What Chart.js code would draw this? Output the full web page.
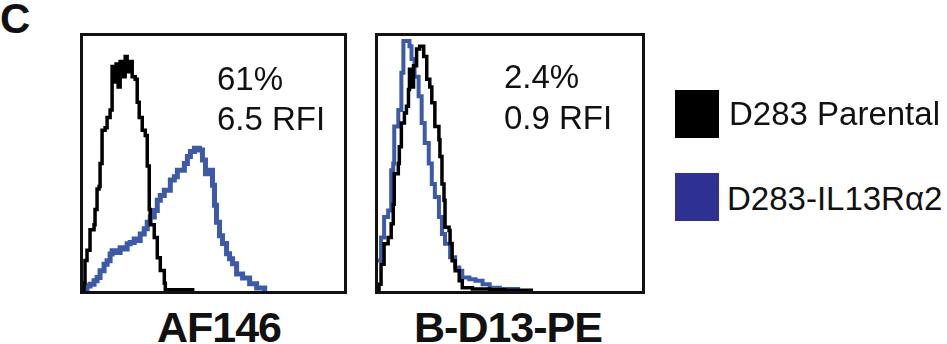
<!DOCTYPE html>
<html>
<head>
<meta charset="utf-8">
<script src="https://cdn.jsdelivr.net/npm/chart.js@4.4.0/dist/chart.umd.min.js"></script>
<style>
  body { margin: 0; width: 947px; height: 344px; background: #fff; position: relative; overflow: hidden;
         font-family: "Liberation Sans", Arial, Helvetica, sans-serif; color: #111; }
  .txt { position: absolute; line-height: 1; white-space: nowrap; }
  .panel { position: absolute; border: 3px solid #111; background: #fff; }
  .panel canvas { display: block; }
  .swatch { position: absolute; width: 44px; height: 48px; }
  .lbl { font-weight: bold; font-size: 43px; letter-spacing: -1px; text-align: center; width: 260px; }
</style>
</head>
<body>
<div class="txt" style="left:0;top:-2px;font-size:42px;font-weight:bold;">C</div>

<div class="panel" style="left:80px;top:33px;width:261px;height:255px;"><canvas id="af146"></canvas></div>
<div class="panel" style="left:375px;top:33px;width:264px;height:255px;"><canvas id="bd13"></canvas></div>

<div class="txt" style="left:217px;top:62px;font-size:33px;">61%</div>
<div class="txt" style="left:217px;top:102px;font-size:33px;">6.5 RFI</div>
<div class="txt" style="left:504px;top:60px;font-size:33px;">2.4%</div>
<div class="txt" style="left:504px;top:101px;font-size:33px;">0.9 RFI</div>

<div class="swatch" style="left:675px;top:90px;background:#000;"></div>
<div class="txt" style="left:729px;top:97px;font-size:33px;">D283 Parental</div>
<div class="swatch" style="left:675px;top:173px;background:#2e3192;"></div>
<div class="txt" style="left:727px;top:182px;font-size:33px;">D283-IL13R&alpha;2</div>

<div class="txt lbl" style="left:89px;top:306px;">AF146</div>
<div class="txt lbl" style="left:378px;top:306px;">B-D13-PE</div>

<script>
// Histogram traces: channel (0-260 across the box) and % of max count
const seriesNames = ['D283 Parental', 'D283-IL13R\u03b12'];

const af146ParentalX = [0, 1, 2, 4, 7, 11, 12, 14, 16, 17, 19, 22, 24, 27, 29, 31, 33, 35, 37, 40, 42, 44, 46, 49, 52, 54, 56, 59, 62, 64, 66, 67, 71, 74, 77, 81, 82, 111];
const af146ParentalY = [0, 3, 12, 16, 24, 26, 32, 40, 41, 50, 63, 64, 68, 71, 88, 82, 89, 80, 90, 84, 92, 86, 90, 84, 83, 74, 68, 63, 61, 49, 32, 26, 21, 13, 8, 3, 0.5, 0.5];

const af146IL13X = [0, 4, 7, 11, 14, 17, 21, 24, 27, 29, 34, 37, 41, 44, 47, 51, 54, 57, 61, 64, 67, 71, 74, 77, 81, 84, 87, 91, 94, 97, 101, 104, 107, 111, 116, 119, 122, 126, 129, 131, 133, 136, 139, 143, 146, 149, 153, 159, 166, 173, 181];
const af146IL13Y = [1, 2, 2.6, 4, 5.3, 7.9, 10.5, 11.9, 14.5, 15.8, 15.1, 17, 16.5, 18.5, 19, 20.4, 19.8, 22.4, 24.4, 27, 29, 31.6, 35.6, 37.5, 39.5, 39.5, 43.5, 44.8, 47.4, 47.4, 50, 52.7, 54.7, 56, 55.3, 51.4, 46, 47.4, 41.5, 33.6, 27, 21.7, 18.6, 14.6, 12.6, 10.7, 6.7, 5.1, 2.8, 1.2, 0];

const bd13ParentalX = [0, 1, 3, 6, 10, 13, 15, 16, 20, 21, 23, 26, 28, 30, 31, 33, 35, 38, 41, 45, 48, 51, 53, 56, 60, 61, 63, 65, 66, 70, 71, 73, 76, 80, 83, 93, 110, 125, 151];
const bd13ParentalY = [0, 2.6, 10.5, 18.5, 21, 26.4, 34, 46, 50, 56.6, 65.9, 69.8, 72.5, 79, 87, 80, 88.3, 94.9, 96, 92, 83, 80, 73.8, 64.5, 59.3, 52.7, 42, 35.6, 25, 23.7, 18.6, 11.9, 7.9, 4, 1.3, 0.8, 0.5, 0.3, 0];

const bd13IL13X = [0, 3, 6, 10, 13, 15, 16, 20, 23, 25, 30, 31, 33, 36, 40, 43, 46, 50, 53, 56, 60, 63, 66, 71, 76, 80, 83, 90, 96, 103, 110, 120, 138];
const bd13IL13Y = [12, 21, 29, 31.6, 47.4, 50, 64.5, 71, 85.6, 98, 98, 96, 91, 84, 76.4, 65.9, 58, 50, 42, 36.9, 29, 22.4, 18.5, 13.2, 9.2, 7.9, 5.3, 4.6, 4, 2.6, 1.3, 0.8, 0];

const channelMax = 260;
const countMax = 100;

function pts(xs, ys) {
  return xs.map((x, i) => ({ x: x, y: ys[i] }));
}

function histogram(id, parX, parY, ilX, ilY, blueWidth) {
  const ctx = document.getElementById(id).getContext('2d');
  new Chart(ctx, {
    type: 'line',
    data: {
      datasets: [{
        label: seriesNames[0],
        data: pts(parX, parY),
        borderColor: '#000',
        borderWidth: 3.5,
        stepped: true,
        pointRadius: 0,
        fill: false,
        order: 0
      }, {
        label: seriesNames[1],
        data: pts(ilX, ilY),
        borderColor: '#3c5aa8',
        borderWidth: blueWidth,
        stepped: true,
        pointRadius: 0,
        fill: false,
        order: 1
      }]
    },
    options: {
      responsive: true,
      maintainAspectRatio: false,
      animation: false,
      layout: { padding: 0 },
      plugins: { legend: { display: false }, tooltip: { enabled: false } },
      scales: {
        x: { type: 'linear', min: 0, max: channelMax, display: false },
        y: { min: 0, max: countMax, display: false }
      }
    }
  });
}

histogram('af146', af146ParentalX, af146ParentalY, af146IL13X, af146IL13Y, 5);
histogram('bd13', bd13ParentalX, bd13ParentalY, bd13IL13X, bd13IL13Y, 4);
</script>
</body>
</html>
